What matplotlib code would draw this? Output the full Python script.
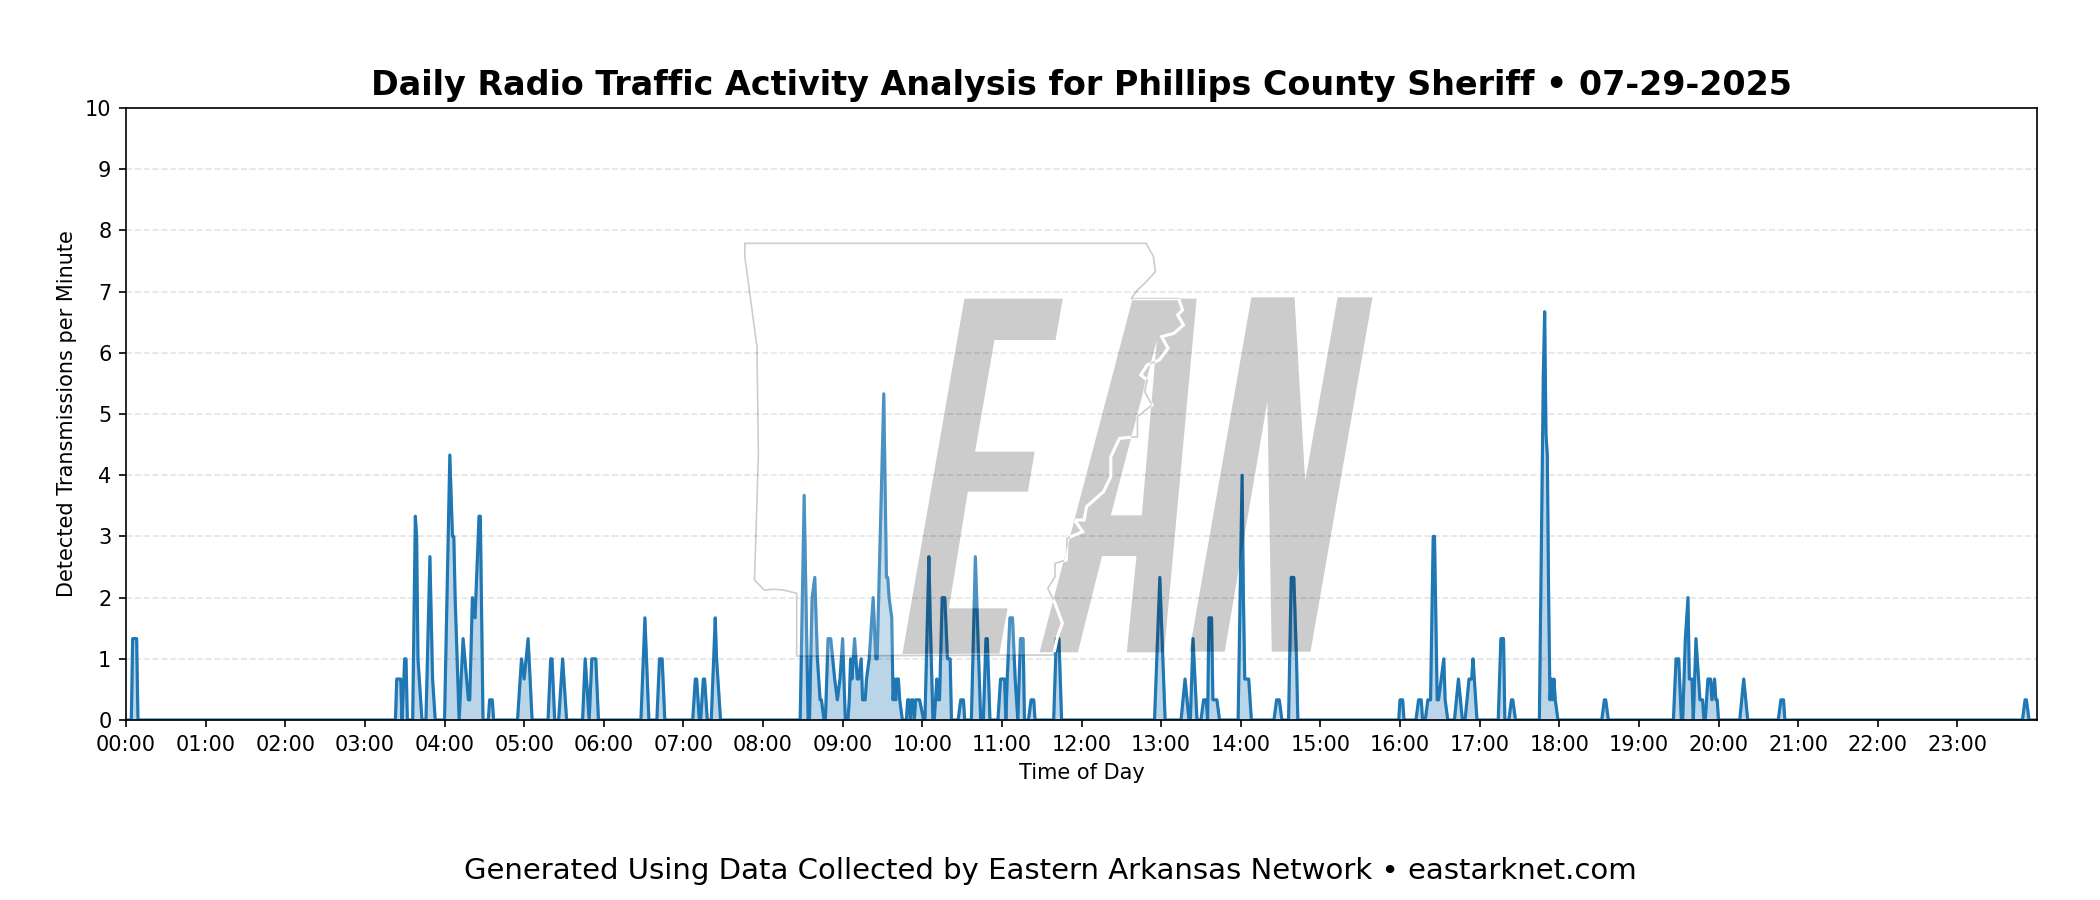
# daily radio traffic plot for one county, with the network logo laid over the axes

import matplotlib
matplotlib.use('AGG')
import matplotlib.pyplot as plt
import numpy as np
from matplotlib.path import Path
from matplotlib.patches import PathPatch
from matplotlib.transforms import Affine2D

#%% data: minute of day and transmissions per minute (breakpoints only, zero in between)
minutes = [0, 4, 5, 8, 9,
           203, 204, 207, 208, 210, 211, 212, 216, 218, 219, 220, 221, 223, 226, 229, 230, 231, 233,
           240, 244, 246, 247, 248, 251, 254, 258, 259, 261, 263, 266, 267, 269, 273, 274, 276, 277,
           295, 298, 300, 303, 306, 318, 320, 321, 323, 326, 329, 332, 344, 346, 349, 351, 354, 356,
           388, 391, 394, 400, 402, 404, 406,
           427, 429, 430, 432, 433, 435, 436, 438, 441, 444, 445, 446, 448,
           508, 511, 514, 515, 517, 519, 520, 521, 523, 524, 526, 527, 529, 531, 534, 536, 538, 540, 542, 544,
           545, 546, 547, 549, 551, 552, 554, 555, 557, 558, 560, 563, 565, 566, 571, 573, 574, 575, 577, 578, 579, 580, 581, 582, 583, 585,
           588, 589, 590, 591, 592, 593, 594, 595, 596, 598, 601, 602, 605, 606, 608, 609, 611, 612, 613, 615, 617, 619, 621, 622,
           627, 629, 631, 632, 637, 640, 642, 644, 646, 648, 649, 651,
           657, 659, 662, 663, 664, 666, 668, 670, 672, 674, 676, 677, 680, 682, 684, 685, 699, 701, 703, 705,
           775, 779, 783, 795, 798, 801, 802, 804, 807, 810, 812, 814, 815, 816, 818, 819, 821, 822, 824,
           838, 841, 842, 843, 844, 846, 848, 865, 867, 869, 871, 876, 878, 880, 882, 883,
           959, 960, 962, 963, 972, 974, 976, 977, 979, 981, 982, 983, 985, 986, 988, 989, 991, 993, 994, 996,
           1001, 1004, 1007, 1009, 1012, 1014, 1015, 1017, 1018, 1034, 1036, 1038, 1039, 1042, 1044, 1045, 1047,
           1065, 1068, 1069, 1070, 1071, 1072, 1073, 1074, 1075, 1076, 1077, 1079,
           1112, 1114, 1115, 1117, 1166, 1168, 1170, 1172, 1173, 1175, 1177, 1178, 1180, 1181, 1183, 1185, 1186, 1188, 1189,
           1190, 1192, 1194, 1195, 1197, 1198, 1199, 1200, 1216, 1219, 1222, 1245, 1247, 1249, 1250, 1429, 1431, 1432, 1434, 1440]
rates = [0, 0, 1.33, 1.33, 0,
         0, 0.67, 0.67, 0, 1.0, 1.0, 0, 0, 3.33, 3.0, 1.0, 0.67, 0, 0, 2.67, 1.67, 0.67, 0,
         0, 4.33, 3.0, 3.0, 2.0, 0, 1.33, 0.33, 0.33, 2.0, 1.67, 3.33, 3.33, 0, 0, 0.33, 0.33, 0,
         0, 1.0, 0.67, 1.33, 0, 0, 1.0, 1.0, 0, 0, 1.0, 0, 0, 1.0, 0, 1.0, 1.0, 0,
         0, 1.67, 0, 0, 1.0, 1.0, 0,
         0, 0.67, 0.67, 0, 0, 0.67, 0.67, 0, 0, 1.67, 1.0, 0.67, 0,
         0, 3.67, 0, 0, 2.0, 2.33, 1.67, 1.0, 0.33, 0.33, 0, 0, 1.33, 1.33, 0.67, 0.33, 0.67, 1.33, 0, 0,
         0.33, 1.0, 0.67, 1.33, 0.67, 0.67, 1.0, 0.33, 0.33, 0.67, 1.0, 2.0, 1.0, 1.0, 5.33, 2.33, 2.33, 2.0, 1.67, 0.33, 0.67, 0.33, 0.67, 0.67, 0.33, 0,
         0, 0.33, 0.33, 0, 0.33, 0.33, 0, 0.33, 0.33, 0.33, 0, 0, 2.67, 1.67, 0, 0, 0.67, 0.33, 0.33, 2.0, 2.0, 1.0, 1.0, 0,
         0, 0.33, 0.33, 0, 0, 2.67, 1.33, 0, 0, 1.33, 1.33, 0,
         0, 0.67, 0.67, 0, 0.67, 1.67, 1.67, 0.67, 0, 1.33, 1.33, 0, 0, 0.33, 0.33, 0, 0, 1.33, 1.33, 0,
         0, 2.33, 0, 0, 0.67, 0, 0, 1.33, 0, 0, 0.33, 0.33, 0, 1.67, 1.67, 0.33, 0.33, 0.33, 0,
         0, 4.0, 2.0, 0.67, 0.67, 0.67, 0, 0, 0.33, 0.33, 0, 0, 2.33, 2.33, 1.0, 0,
         0, 0.33, 0.33, 0, 0, 0.33, 0.33, 0, 0, 0.33, 0.33, 0.33, 3.0, 3.0, 0.33, 0.33, 0.67, 1.0, 0.33, 0,
         0, 0.67, 0, 0, 0.67, 0.67, 1.0, 0.33, 0, 0, 1.33, 1.33, 0, 0, 0.33, 0.33, 0,
         0, 5.67, 6.67, 4.67, 4.33, 2.0, 0.33, 0.67, 0.33, 0.67, 0.33, 0,
         0, 0.33, 0.33, 0, 0, 1.0, 1.0, 0, 0, 1.33, 2.0, 0.67, 0.67, 0, 1.33, 0.67, 0.33, 0.33, 0,
         0, 0.67, 0.67, 0.33, 0.67, 0.33, 0.33, 0, 0, 0.67, 0, 0, 0.33, 0.33, 0, 0, 0.33, 0.33, 0, 0]
hour_labels = ['%02d:00' % h for h in range(24)]
hour_ticks = [h*60 for h in range(24)]
y_ticks = list(range(11))

#%% logo outlines, in logo units
logo_E = [(628,236),(831,236),(816,360),(690,360),(650,695),(773,695),(759,815),(635,815),
          (596,1165),(717,1165),(700,1302),(500,1302)]
logo_A = [(783,1297),(975,236),(1107,236),(1040,1297),(963,1297),(983,1008),(912,1008),(862,1297)]
logo_A_hole = [(930,886),(994,886),(1025,360)]
logo_N = [(1092,1295),(1220,232),(1309,232),(1331,783),(1398,232),(1470,232),(1342,1295),
          (1262,1295),(1253,545),(1165,1295)]
logo_state = [(175,70),(1003,70),(1018,110),(1022,155),(1000,190),(985,210),(972,236),(1070,236),
              (1078,270),(1068,285),(1080,315),(1060,340),(1035,350),(1048,385),(1030,420),
              (1005,435),(992,465),(1005,480),(1000,515),(1015,555),(985,590),(985,650),(948,655),
              (930,710),(930,770),(915,815),(880,860),(875,900),(855,900),(872,935),(840,955),
              (838,1020),(815,1030),(815,1070),(800,1105),(815,1150),(830,1210),(820,1250),
              (812,1305),(282,1308),(282,1120),(255,1110),(235,1108),(215,1110),(195,1080),
              (203,700),(200,380),(175,110)]

def ring(points):
    return Path(points+[points[0]],closed=True)

#%% make plot
fig = plt.figure(figsize=(14,6),dpi=150)
ax = fig.add_axes([126/2100, 180/900, 1911/2100, 612/900])

ax.plot(minutes,rates,color='#1f77b4',linewidth=1.5)
ax.fill_between(minutes,rates,color='#1f77b4',alpha=0.3)
ax.set_xlim(0,1440)
ax.set_ylim(0,10)
ax.set_xticks(hour_ticks)
ax.set_xticklabels(hour_labels)
ax.set_yticks(y_ticks)
ax.grid(axis='y',linestyle='--',alpha=0.6,color='lightgrey',linewidth=0.8)
ax.set_axisbelow(True)
ax.tick_params(labelsize=10)
ax.set_xlabel('Time of Day',fontsize=10)
ax.set_ylabel('Detected Transmissions per Minute',fontsize=10)
ax.set_title('Daily Radio Traffic Activity Analysis for Phillips County Sheriff \u2022 07-29-2025',
             fontsize=16,fontweight='bold',pad=6)
fig.text(0.5,0.032,'Generated Using Data Collected by Eastern Arkansas Network \u2022 eastarknet.com',
         ha='center',va='center',fontsize=14)

#%% logo sits on top of the data
over = fig.add_axes([0,0,1,1],zorder=5)
over.set_xlim(0,2100)
over.set_ylim(900,0)
over.axis('off')
logo_trans = Affine2D().scale(1/2.063,1/3).translate(660,220) + over.transData

state_path = ring(logo_state)
letters = Path.make_compound_path(ring(logo_E),ring(logo_A),ring(logo_A_hole),ring(logo_N))
wash = Path.make_compound_path(ring(logo_state[::-1]),letters)

p = PathPatch(wash,facecolor='white',edgecolor='none',alpha=0.2,transform=logo_trans)
over.add_patch(p)
p.set_clip_path(state_path,logo_trans)
over.add_patch(PathPatch(letters,facecolor='black',edgecolor='none',alpha=0.2,transform=logo_trans))
over.add_patch(PathPatch(state_path,facecolor='none',edgecolor='black',alpha=0.2,linewidth=0.8,transform=logo_trans))
river = PathPatch(state_path,facecolor='none',edgecolor='white',linewidth=1.5,transform=logo_trans)
over.add_patch(river)
river.set_clip_path(letters,logo_trans)

fig.savefig('out.png',dpi=150)
plt.close()
